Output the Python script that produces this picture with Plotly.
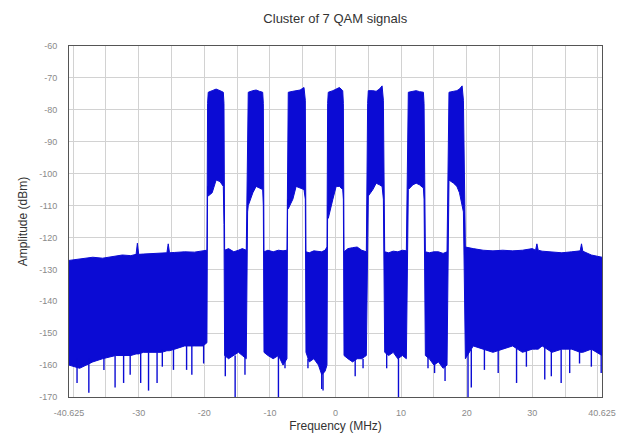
import plotly.graph_objects as go

# ---- data ----
# Envelope of the measured spectrum: frequency (MHz), upper and lower level (dBm)
freq_mhz = [
    # left noise floor
    -40.625, -39.0, -37.0, -35.5, -33.5, -32.5, -31.2, -30.4, -30.2, -30.0, -29.3, -27.5, -26.5, -25.7, -25.5, -25.3, -24.5, -23.0, -21.5, -20.2, -19.6,
    # channel 1
    -19.5, -19.4, -18.8, -18.2, -17.6, -17.1, -17.0,
    # noise A
    -16.9, -16.3, -15.5, -14.8, -14.2, -13.6,
    # channel 2
    -13.4, -13.3, -12.6, -12.1, -11.6, -11.1, -11.0,
    # noise B
    -10.9, -10.3, -9.5, -8.7, -8.0, -7.4,
    # channel 3
    -7.3, -7.2, -6.5, -6.0, -5.4, -4.8, -4.6,
    # noise C
    -4.5, -4.0, -3.3, -2.6, -2.1, -1.6, -1.3,
    # channel 4
    -1.2, -1.1, -0.4, 0.1, 0.6, 1.1, 1.2,
    # noise D
    1.3, 1.9, 2.6, 3.3, 4.0, 4.7,
    # channel 5
    4.9, 5.0, 5.7, 6.2, 6.7, 7.1, 7.3,
    # noise E
    7.5, 8.1, 8.8, 9.5, 10.2, 10.8,
    # channel 6
    11.0, 11.1, 11.8, 12.3, 12.8, 13.4, 13.5,
    # noise F
    13.7, 14.3, 15.0, 15.7, 16.4, 17.0,
    # channel 7
    17.2, 17.3, 18.0, 18.5, 18.9, 19.3, 19.5,
    # right noise floor
    19.8, 21.0, 22.5, 24.0, 25.5, 27.0, 28.5, 30.0, 30.5, 30.7, 30.9, 31.5, 33.0, 34.5, 36.0, 37.3, 37.5, 37.7, 39.0, 40.625,
]
upper_dbm = [
    -127.2, -126.8, -126.2, -126.5, -125.8, -125.5, -125.7, -125.3, -121.8, -125.3, -125.2, -125.0, -124.8, -124.8, -122.0, -124.8, -124.7, -124.5, -124.6, -124.2, -124.0,
    -78.0, -74.5, -74.0, -73.5, -74.0, -74.5, -78.0,
    -124.0, -123.5, -124.5, -124.0, -123.5, -124.0,
    -78.0, -74.5, -74.0, -73.8, -74.2, -74.5, -78.0,
    -124.5, -124.0, -124.5, -124.0, -124.2, -124.0,
    -78.0, -74.5, -74.2, -74.0, -73.8, -73.0, -77.0,
    -124.5, -124.8, -124.2, -124.5, -124.5, -124.0, -123.0,
    -78.0, -74.5, -74.0, -73.5, -73.0, -74.0, -78.0,
    -124.5, -123.5, -123.2, -123.0, -124.0, -124.5,
    -78.0, -74.0, -74.0, -74.2, -73.5, -72.5, -77.0,
    -124.5, -124.8, -124.3, -124.5, -124.0, -124.2,
    -78.0, -74.5, -74.2, -74.0, -74.3, -74.5, -78.0,
    -124.5, -124.8, -124.5, -124.5, -125.0, -124.5,
    -78.0, -74.5, -74.2, -74.0, -73.5, -72.5, -77.0,
    -123.0, -123.5, -124.0, -124.2, -124.0, -124.2, -124.0, -123.5, -124.0, -122.0, -124.0, -124.3, -124.5, -124.8, -124.5, -124.2, -122.0, -124.3, -125.5, -126.2,
]
lower_dbm = [
    -160.0, -161.0, -159.0, -158.0, -157.0, -157.0, -157.0, -156.5, -156.5, -156.5, -156.0, -156.0, -156.0, -155.5, -155.5, -155.5, -155.0, -154.0, -154.0, -154.0, -153.0,
    -104.0, -107.0, -106.0, -102.0, -102.5, -104.0, -116.0,
    -157.0, -158.0, -157.0, -156.0, -157.0, -158.0,
    -112.0, -110.0, -106.0, -104.0, -104.5, -105.0, -110.0,
    -156.0, -157.0, -158.0, -157.0, -160.0, -158.0,
    -108.0, -111.0, -108.0, -104.0, -104.5, -105.0, -108.0,
    -156.0, -159.0, -158.0, -160.0, -163.0, -162.0, -160.0,
    -110.0, -114.0, -108.0, -104.0, -104.0, -105.0, -108.0,
    -157.0, -158.0, -159.0, -158.0, -158.0, -157.0,
    -109.0, -107.0, -105.0, -103.0, -103.5, -104.0, -108.0,
    -156.0, -157.0, -156.0, -158.0, -157.0, -158.0,
    -107.0, -105.0, -103.5, -103.0, -103.5, -104.5, -108.0,
    -157.0, -158.0, -160.0, -159.0, -161.0, -160.0,
    -104.0, -102.0, -103.0, -104.0, -106.0, -110.0, -112.0,
    -158.0, -154.0, -155.0, -156.0, -155.0, -154.0, -156.0, -155.0, -155.0, -155.0, -155.0, -154.0, -156.0, -155.0, -155.0, -156.0, -156.0, -156.0, -155.0, -157.0,
]

# Deep downward spikes of the noise trace
spike_freq_mhz = [
    -39.4, -37.6, -35.3, -33.6, -32.3, -31.3, -29.7, -28.5, -27.2, -26.4, -24.7, -22.7, -21.9, -20.1,
    -16.8, -15.3, -13.8, -8.7, -7.7, -4.2, -2.1, -1.9, 3.0, 4.2, 7.8, 9.6, 14.1, 15.1, 16.7,
    20.2, 20.7, 22.7, 24.8, 27.6, 29.1, 31.9, 32.9, 34.4, 35.7, 37.2, 39.0, 40.5,
]
spike_top_dbm = [
    -158, -158, -157, -157, -156, -156, -156, -156, -156, -155, -155, -154, -154, -153,
    -156, -157, -157, -157, -158, -158, -162, -162, -158, -158, -156, -157, -157, -159, -160,
    -155, -155, -154, -155, -154, -155, -154, -155, -155, -155, -155, -155, -156,
]
spike_min_dbm = [
    -165.6, -168.7, -161.5, -167.0, -165.6, -163.0, -165.6, -168.0, -165.6, -160.5, -161.5, -161.5, -163.0, -159.5,
    -163.5, -170.0, -163.0, -170.0, -161.0, -161.0, -167.5, -168.0, -163.5, -161.0, -161.0, -170.0, -161.0, -162.5, -165.0,
    -170.0, -167.0, -161.5, -162.5, -165.6, -160.5, -164.5, -163.5, -165.6, -162.5, -159.5, -160.5, -162.5,
]

x_tick_vals = [-40.625, -30, -20, -10, 0, 10, 20, 30, 40.625]
x_tick_text = ["-40.625", "-30", "-20", "-10", "0", "10", "20", "30", "40.625"]
y_tick_vals = [-170, -160, -150, -140, -130, -120, -110, -100, -90, -80, -70, -60]
y_tick_text = [str(v) for v in y_tick_vals]

BLUE = "#0b0bd4"

fig = go.Figure()
fig.add_trace(go.Scatter(x=freq_mhz, y=lower_dbm, mode="lines",
                         line=dict(color=BLUE, width=1), hoverinfo="skip", showlegend=False))
fig.add_trace(go.Scatter(x=freq_mhz, y=upper_dbm, mode="lines", fill="tonexty",
                         fillcolor=BLUE, line=dict(color=BLUE, width=1),
                         showlegend=False))

sx, sy = [], []
for f, t, m in zip(spike_freq_mhz, spike_top_dbm, spike_min_dbm):
    sx += [f, f, None]
    sy += [t, m, None]
fig.add_trace(go.Scatter(x=sx, y=sy, mode="lines", line=dict(color=BLUE, width=1.4),
                         hoverinfo="skip", showlegend=False))

grid = "#d2d2d2"
fig.update_layout(
    width=629, height=442,
    margin=dict(l=69, r=27, t=46, b=41),
    paper_bgcolor="white", plot_bgcolor="white",
    font=dict(family="Liberation Sans, Arial, sans-serif", color="#333333"),
    title=dict(text="Cluster of 7 QAM signals", x=0.533, xanchor="center",
               y=1 - 18 / 442, yanchor="middle", font=dict(size=13, color="#333333")),
    xaxis=dict(
        range=[-40.625, 40.625], tickmode="array", tickvals=x_tick_vals, ticktext=x_tick_text,
        showgrid=False, zeroline=False, showline=True, linecolor="#555555", linewidth=1,
        mirror=True, ticks="outside", ticklen=7, tickcolor="rgba(0,0,0,0)",
        tickfont=dict(size=9, color="#8a8a8a"),
        minor=dict(tickmode="linear", tick0=0, dtick=5, showgrid=True, gridcolor=grid,
                   gridwidth=1, ticks=""),
        title=dict(text="Frequency (MHz)", font=dict(size=12, color="#333333"), standoff=4),
    ),
    yaxis=dict(
        range=[-170, -60], tickmode="array", tickvals=y_tick_vals, ticktext=y_tick_text,
        showgrid=True, gridcolor=grid, gridwidth=1, zeroline=False, showline=True,
        linecolor="#555555", linewidth=1, mirror=True, ticks="outside", ticklen=9,
        tickcolor="rgba(0,0,0,0)", tickfont=dict(size=9, color="#8a8a8a"),
        title=dict(text="Amplitude (dBm)", font=dict(size=12, color="#333333"), standoff=8),
    ),
)

fig.write_html("out.html")
